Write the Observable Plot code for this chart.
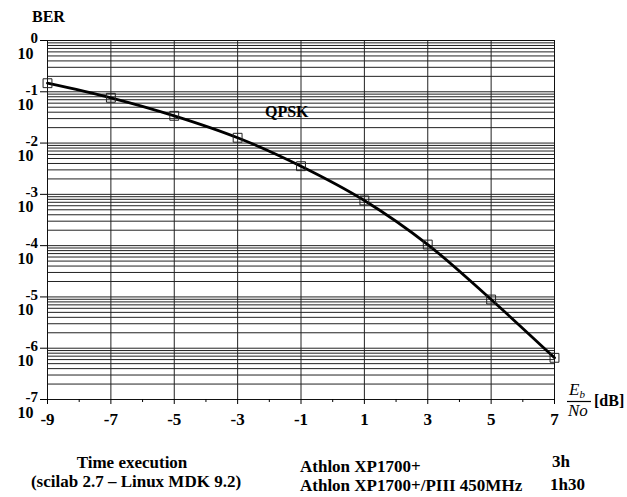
<!DOCTYPE html>
<html><head><meta charset="utf-8">
<script src="https://cdn.jsdelivr.net/npm/d3@7"></script>
<script src="https://cdn.jsdelivr.net/npm/@observablehq/plot@0.6"></script>
<style>body{margin:0;background:#fff}</style>
</head><body><div id="chart"></div>
<script>
const ebno = [-9, -7, -5, -3, -1, 1, 3, 5, 7];
const ber = [0.147, 0.0764, 0.034, 0.0127, 0.00354, 7.6e-4, 1.05e-4, 8.9e-6, 6.5e-7];
const xMajorTicks = [-9, -7, -5, -3, -1, 1, 3, 5, 7];
const xMinorTicks = [-8, -6, -4, -2, 0, 2, 4, 6];
const yExponents = [0, -1, -2, -3, -4, -5, -6, -7];
const yMantissas = [2, 3, 4, 5, 6, 7, 8, 9];
const seriesName = "QPSK";
const footerLeft = ["Time execution", "(scilab 2.7 \u2013 Linux MDK 9.2)"];
const footerMachines = ["Athlon XP1700+", "Athlon XP1700+/PIII 450MHz"];
const footerTimes = ["3h", "1h30"];

const data = ebno.map((x, i) => ({x, y: ber[i]}));
const yMajor = yExponents.map(e => 10 ** e);
const yGrid = yMajor.concat(yExponents.slice(0, -1).flatMap(e => yMantissas.map(m => m * 10 ** (e - 1))));

const serif = "'Liberation Serif', 'Times New Roman', serif";
const plot = Plot.plot({
  width: 627, height: 497,
  marginLeft: 47, marginRight: 73, marginTop: 40, marginBottom: 98,
  style: {fontFamily: serif, fontSize: "16px", fontWeight: "bold", background: "#fff", color: "#000"},
  x: {domain: [-9, 7], label: null},
  y: {type: "log", domain: [1e-7, 1], label: null},
  marks: [
    Plot.ruleY(yGrid, {stroke: "#222", strokeWidth: 1}),
    Plot.ruleX(xMajorTicks, {stroke: "#222", strokeWidth: 1}),
    Plot.frame({stroke: "#111"}),
    Plot.axisX(xMinorTicks, {tickSize: 3, tickFormat: () => "", label: null}),
    Plot.axisX(xMajorTicks, {tickSize: 5, tickPadding: 8, tickFormat: d => String(d), label: null, fontSize: 17}),
    Plot.axisY(yMajor, {tickSize: 7, tickFormat: () => "", label: null}),
    Plot.text(yExponents, {y: e => 10 ** e, frameAnchor: "left", text: () => "10", dx: -14, dy: 13, textAnchor: "end", fontSize: 16}),
    Plot.text(yExponents, {y: e => 10 ** e, frameAnchor: "left", text: e => String(e), dx: -9.5, dy: -2, textAnchor: "end", fontSize: 15}),
    Plot.line(data, {x: "x", y: "y", curve: "catmull-rom", strokeWidth: 2.8, stroke: "#000"}),
    Plot.dot(data, {x: "x", y: "y", symbol: "square", r: 5, stroke: "#222", strokeWidth: 1, fill: "none"})
  ]
});
document.getElementById("chart").appendChild(plot);

const svg = d3.select(plot);
const g = svg.append("g").attr("font-family", serif).attr("fill", "#000").attr("text-anchor", "start");
const txt = (x, y, s, size, opts = {}) => {
  const t = g.append("text").attr("x", x).attr("y", y).attr("font-size", size)
    .attr("font-weight", opts.weight || "bold").attr("text-anchor", opts.anchor || "start");
  if (opts.italic) t.attr("font-style", "italic");
  if (s != null) t.text(s);
  return t;
};
txt(32, 22, "BER", 16);
txt(265, 117, seriesName, 16);
// x label: Eb/No [dB]
const eb = txt(569, 395, null, 17, {italic: true, weight: "normal"});
eb.append("tspan").text("E");
eb.append("tspan").attr("font-size", 11).attr("dy", 3).text("b");
g.append("line").attr("x1", 567).attr("x2", 591).attr("y1", 401.5).attr("y2", 401.5).attr("stroke", "#000").attr("stroke-width", 1.2);
txt(568, 416, "No", 17, {italic: true, weight: "normal"});
txt(594, 406, "[dB]", 16);
// footer
txt(132, 468, footerLeft[0], 17, {anchor: "middle"});
txt(136, 487, footerLeft[1], 17, {anchor: "middle"});
txt(300, 472, footerMachines[0], 17);
txt(300, 491, footerMachines[1], 17);
txt(552, 467, footerTimes[0], 17);
txt(550, 490, footerTimes[1], 17);
</script>
</body></html>
